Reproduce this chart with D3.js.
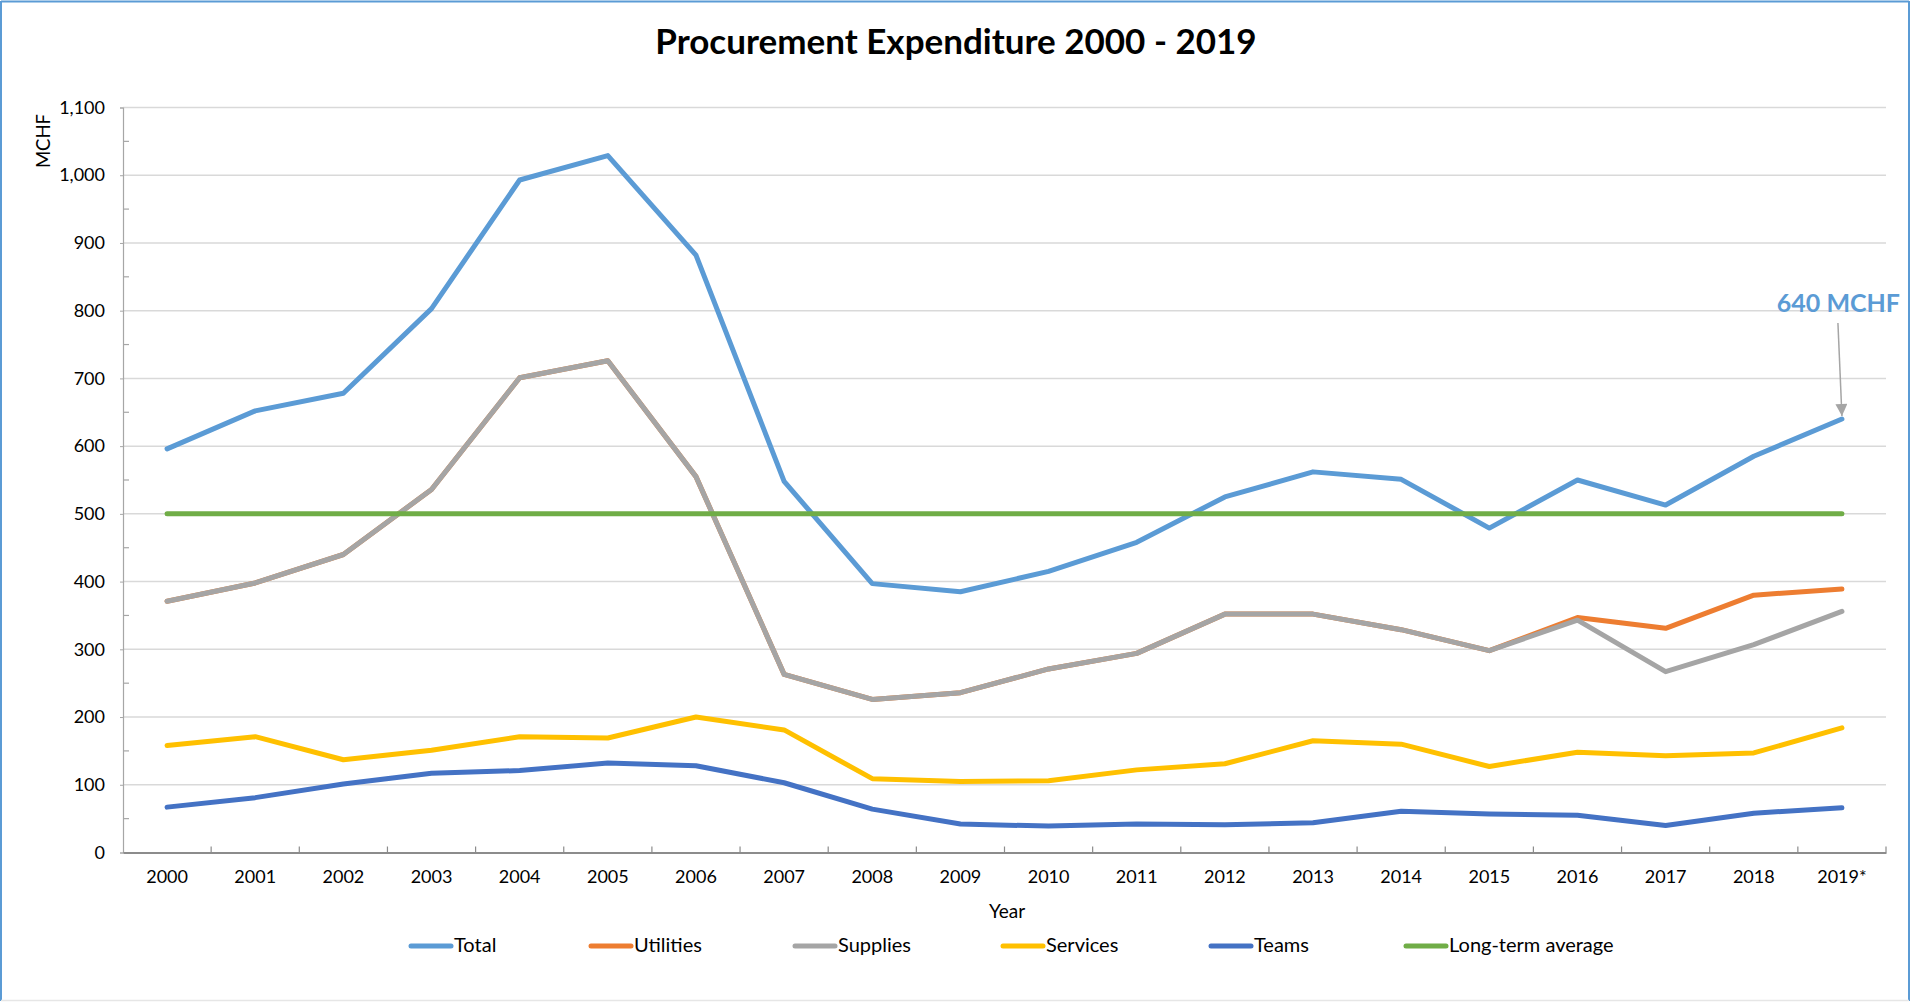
<!DOCTYPE html>
<html>
<head>
<meta charset="utf-8">
<script src="https://cdn.jsdelivr.net/npm/d3@7"></script>
<style>
  html, body { margin: 0; padding: 0; background: #fff; }
  svg { display: block; }
  text { font-family: Lato, "Open Sans", sans-serif; fill: #000; }
</style>
</head>
<body>
<svg id="chart" width="1911" height="1002"></svg>
<script>
const years = ["2000","2001","2002","2003","2004","2005","2006","2007","2008","2009","2010","2011","2012","2013","2014","2015","2016","2017","2018","2019*"];
const total     = [596, 652, 678, 803, 993, 1029, 882, 548, 397, 385, 415, 458, 525, 562, 551, 479, 550, 513, 585, 640];
const supplies  = [371, 398, 440, 536, 701, 726, 555, 263, 226, 236, 271, 294, 352, 352, 329, 298, 343, 267, 307, 356];
const utilities = [371, 398, 440, 536, 701, 726, 555, 263, 226, 236, 271, 294, 352, 352, 329, 298, 347, 331, 380, 389];
const services  = [158, 171, 137, 151, 171, 169, 200, 181, 109, 105, 106, 122, 131, 165, 160, 127, 148, 143, 147, 184];
const teams     = [67, 81, 101, 117, 121, 132, 128, 103, 64, 42, 39, 42, 41, 44, 61, 57, 55, 40, 58, 66];
const longTermAverage = [500, 500, 500, 500, 500, 500, 500, 500, 500, 500, 500, 500, 500, 500, 500, 500, 500, 500, 500, 500];
const yTicks = [0, 100, 200, 300, 400, 500, 600, 700, 800, 900, 1000, 1100];
const seriesNames = ["Total", "Utilities", "Supplies", "Services", "Teams", "Long-term average"];
const seriesColors = ["#5b9bd5", "#ed7d31", "#a5a5a5", "#ffc000", "#4472c4", "#70ad47"];
const seriesValues = [total, utilities, supplies, services, teams, longTermAverage];
const annotationText = "640 MCHF";

// layout
const L = { left: 123, right: 1886, top: 107.5, bottom: 852.5 };
const legendX = [409, 589, 793, 1001, 1209, 1404];

const svg = d3.select("#chart");

// border
svg.append("line").attr("x1",1).attr("y1",1.5).attr("x2",1909).attr("y2",1.5).attr("stroke","#5b9bd5").attr("stroke-width",2);
svg.append("line").attr("x1",1).attr("y1",1).attr("x2",1).attr("y2",1001).attr("stroke","#5b9bd5").attr("stroke-width",2);
svg.append("line").attr("x1",1909).attr("y1",1).attr("x2",1909).attr("y2",1001).attr("stroke","#5b9bd5").attr("stroke-width",2);
svg.append("line").attr("x1",1).attr("y1",1000.5).attr("x2",1909).attr("y2",1000.5).attr("stroke","#e6e6e6").attr("stroke-width",1.5);

const x = d3.scaleBand().domain(years).range([L.left, L.right]).padding(0);
const bw = x.bandwidth();
const cx = d => x(d) + bw / 2;
const y = d3.scaleLinear().domain([0, 1100]).range([L.bottom, L.top]);

// gridlines
svg.append("g").selectAll("line").data(yTicks.filter(t => t > 0)).join("line")
  .attr("x1", L.left).attr("x2", L.right)
  .attr("y1", d => y(d)).attr("y2", d => y(d))
  .attr("stroke", "#d9d9d9").attr("stroke-width", 1.5);

// y axis
const yAxis = d3.axisLeft(y).tickValues(yTicks).tickSize(3).tickPadding(15)
  .tickFormat(d3.format(","));
const gy = svg.append("g").attr("transform", `translate(${L.left},0)`).call(yAxis);
gy.select(".domain").attr("stroke", "#a6a6a6").attr("stroke-width", 1.2);
gy.selectAll(".tick line").attr("stroke", "#a6a6a6");
gy.selectAll(".tick text").style("font-family", "Lato").style("font-size", "18px").attr("fill", "#000");
// minor ticks (inside)
const minor = d3.range(50, 1100, 100);
svg.append("g").selectAll("line").data(minor).join("line")
  .attr("x1", L.left).attr("x2", L.left + 6)
  .attr("y1", d => y(d)).attr("y2", d => y(d))
  .attr("stroke", "#a6a6a6").attr("stroke-width", 1.2);

// x axis
const xAxis = d3.axisBottom(x).tickSize(0).tickPadding(18).tickFormat(d => d);
const gx = svg.append("g").attr("transform", `translate(0,${L.bottom})`).call(xAxis);
gx.select(".domain").attr("stroke", "#8c8c8c").attr("stroke-width", 2);
gx.selectAll(".tick text").style("font-family", "Lato").style("font-size", "18px").attr("fill", "#000");
// category boundary ticks
const bounds = years.map(d => x(d)).concat([L.right]).slice(1);
svg.append("g").selectAll("line").data(bounds).join("line")
  .attr("x1", d => d).attr("x2", d => d)
  .attr("y1", L.bottom).attr("y2", L.bottom - 6)
  .attr("stroke", "#8c8c8c").attr("stroke-width", 1.2);

// series lines
const line = d3.line().x((d, i) => cx(years[i])).y(d => y(d));
seriesValues.forEach((vals, k) => {
  svg.append("path").datum(vals)
    .attr("d", line)
    .attr("fill", "none")
    .attr("stroke", seriesColors[k])
    .attr("stroke-width", 5)
    .attr("stroke-linejoin", "round")
    .attr("stroke-linecap", "round");
});

// title
svg.append("text").attr("x", 956).attr("y", 54).attr("text-anchor", "middle")
  .style("font-family", "Lato").style("font-weight", "bold").style("font-size", "35px")
  .text("Procurement Expenditure 2000 - 2019");

// y axis title
svg.append("text").attr("transform", "translate(50,141) rotate(-90)").attr("text-anchor", "middle")
  .style("font-family", "Lato").style("font-size", "18.5px").text("MCHF");

// x axis title
svg.append("text").attr("x", 1007).attr("y", 918).attr("text-anchor", "middle")
  .style("font-family", "Lato").style("font-size", "19px").text("Year");

// annotation
const lastI = years.length - 1;
const px = cx(years[lastI]), py = y(total[lastI]);
svg.append("defs").append("marker").attr("id", "arr")
  .attr("viewBox", "0 0 10 10").attr("refX", 10).attr("refY", 5)
  .attr("markerUnits", "userSpaceOnUse")
  .attr("markerWidth", 13).attr("markerHeight", 12).attr("orient", "auto")
  .append("path").attr("d", "M0,0 L10,5 L0,10 Z").attr("fill", "#a5a5a5");
svg.append("line").attr("x1", px - 4).attr("y1", py - 96).attr("x2", px).attr("y2", py - 3)
  .attr("stroke", "#a5a5a5").attr("stroke-width", 1.5).attr("marker-end", "url(#arr)");
svg.append("text").attr("x", 1900).attr("y", 312).attr("text-anchor", "end")
  .style("font-family", "Lato").style("font-weight", "bold").style("font-size", "25px")
  .attr("fill", "#5b9bd5").style("fill", "#5b9bd5").text(annotationText);

// legend
const lg = svg.append("g");
seriesNames.forEach((name, k) => {
  const gx0 = legendX[k];
  lg.append("line").attr("x1", gx0 + 2).attr("x2", gx0 + 42).attr("y1", 946).attr("y2", 946)
    .attr("stroke", seriesColors[k]).attr("stroke-width", 5).attr("stroke-linecap", "round");
  lg.append("text").attr("x", gx0 + 45).attr("y", 952)
    .style("font-family", "Lato").style("font-size", "20px").text(name);
});
</script>
</body>
</html>
